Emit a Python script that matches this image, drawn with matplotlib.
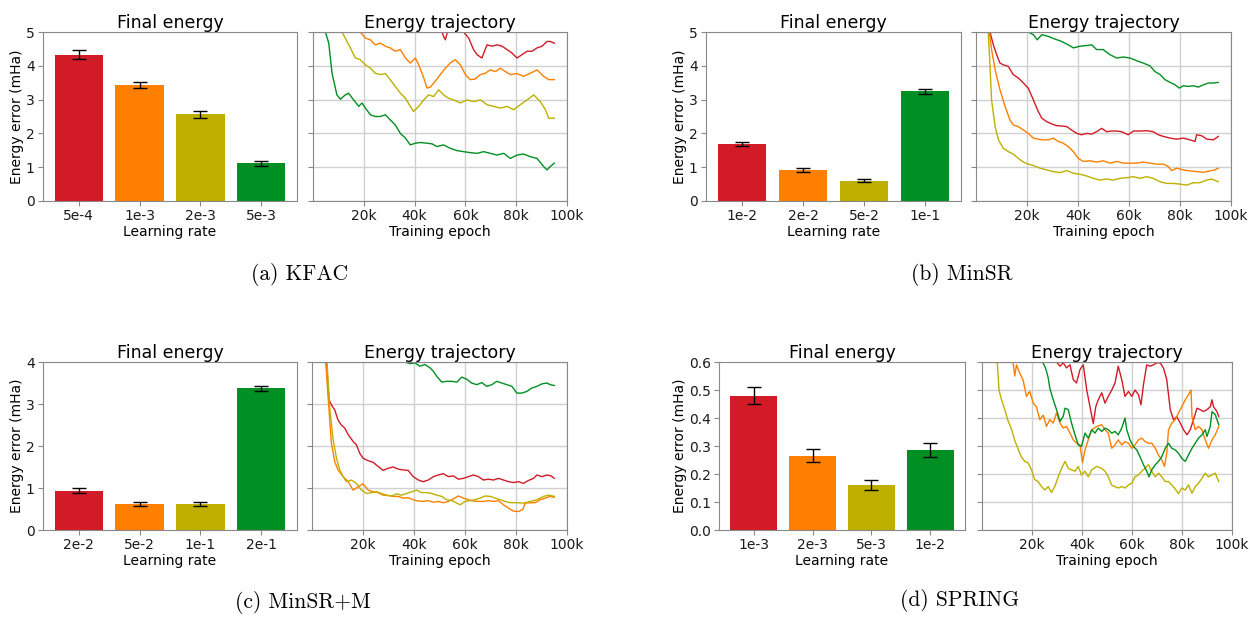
import matplotlib
matplotlib.use("Agg")
import matplotlib.pyplot as plt

RED, ORANGE, YELLOW, GREEN = '#d31b27', '#ff7f00', '#bfb000', '#008f22'
colors = [RED, ORANGE, YELLOW, GREEN]

# final energy error (mHa) per learning rate, with error bars
kfac_lr = ['5e-4', '1e-3', '2e-3', '5e-3']
kfac_final = [4.33, 3.44, 2.57, 1.12]
kfac_err = [0.13, 0.09, 0.10, 0.07]

minsr_lr = ['1e-2', '2e-2', '5e-2', '1e-1']
minsr_final = [1.70, 0.92, 0.60, 3.24]
minsr_err = [0.06, 0.06, 0.05, 0.06]

minsrm_lr = ['2e-2', '5e-2', '1e-1', '2e-1']
minsrm_final = [0.94, 0.62, 0.62, 3.37]
minsrm_err = [0.05, 0.04, 0.045, 0.065]

spring_lr = ['1e-3', '2e-3', '5e-3', '1e-2']
spring_final = [0.48, 0.266, 0.16, 0.284]
spring_err = [0.03, 0.022, 0.017, 0.025]

# energy trajectories: (training epoch in k, energy error in mHa)
kfac_red = [(48.0, 5.6), (50.8, 5.0), (51.4, 4.87), (52.1, 4.77), (52.8, 4.97), (54.5, 5.5), (57.0, 5.6),
            (59.3, 5.0), (61.3, 4.82), (63.2, 4.48), (64.6, 4.33), (66.5, 4.23), (68.5, 4.62), (70.5, 4.58),
            (72.4, 4.62), (74.4, 4.58), (76.4, 4.48), (78.3, 4.38), (80.3, 4.23), (82.3, 4.33), (84.3, 4.43),
            (86.2, 4.43), (88.2, 4.53), (90.2, 4.58), (92.1, 4.72), (93.4, 4.72), (95.0, 4.67)]
kfac_orange = [(16.0, 6.0), (18.6, 5.0), (20.6, 4.82), (22.6, 4.77), (24.5, 4.62), (26.5, 4.67), (28.5, 4.58),
               (30.4, 4.53), (32.4, 4.43), (34.4, 4.48), (36.4, 4.23), (38.3, 4.08), (40.3, 4.23), (41.6, 4.03),
               (43.6, 3.64), (44.9, 3.34), (46.2, 3.37), (48.1, 3.54), (50.1, 3.74), (52.1, 3.93), (54.0, 4.08),
               (56.0, 4.18), (58.0, 4.03), (60.0, 3.74), (61.9, 3.59), (63.9, 3.61), (65.9, 3.74), (67.8, 3.78),
               (69.8, 3.88), (71.8, 3.83), (73.8, 3.93), (75.7, 3.83), (77.7, 3.74), (80.3, 3.77), (82.9, 3.69),
               (85.6, 3.78), (88.2, 3.88), (90.8, 3.69), (92.8, 3.59), (95.0, 3.59)]
kfac_yellow = [(9.0, 6.0), (11.4, 5.0), (12.7, 4.82), (14.7, 4.53), (16.7, 4.23), (18.6, 4.18), (20.6, 4.03),
               (22.6, 3.93), (24.5, 3.78), (26.5, 3.74), (28.5, 3.77), (30.4, 3.59), (32.4, 3.39), (34.4, 3.19),
               (36.4, 3.04), (38.3, 2.80), (39.6, 2.65), (41.6, 2.80), (43.6, 2.99), (45.5, 3.14), (47.5, 3.09),
               (49.5, 3.29), (51.4, 3.14), (53.4, 3.04), (55.4, 2.99), (58.0, 2.90), (60.6, 2.99), (63.2, 2.94),
               (65.9, 2.99), (68.5, 2.85), (71.1, 2.80), (73.8, 2.75), (76.4, 2.80), (79.0, 2.70), (81.6, 2.85),
               (84.3, 2.99), (86.9, 3.14), (89.5, 2.94), (91.5, 2.70), (92.8, 2.45), (95.0, 2.45)]
kfac_green = [(4.0, 6.5), (4.9, 5.0), (6.2, 4.67), (7.5, 3.78), (9.4, 3.14), (10.8, 3.01), (12.7, 3.14),
              (14.0, 3.19), (16.0, 2.99), (18.0, 2.80), (19.3, 2.90), (20.6, 2.75), (22.6, 2.55), (24.5, 2.50),
              (26.5, 2.50), (28.5, 2.55), (30.4, 2.40), (32.4, 2.25), (34.4, 2.00), (36.4, 1.86), (38.3, 1.66),
              (40.3, 1.71), (42.3, 1.73), (44.9, 1.71), (46.9, 1.69), (48.8, 1.61), (51.4, 1.66), (54.0, 1.56),
              (56.7, 1.49), (59.3, 1.46), (61.9, 1.43), (64.6, 1.41), (67.2, 1.46), (69.8, 1.41), (72.4, 1.36),
              (75.1, 1.41), (77.7, 1.26), (80.3, 1.36), (82.9, 1.39), (85.6, 1.31), (88.2, 1.26), (90.8, 1.02),
              (92.1, 0.92), (93.4, 1.02), (95.0, 1.12)]

minsr_red = [(4.5, 7.0), (5.5, 5.0), (6.8, 4.62), (8.1, 4.33), (9.4, 4.08), (10.7, 4.03), (12.7, 3.98),
             (14.6, 3.74), (16.6, 3.64), (18.6, 3.49), (20.5, 3.34), (22.5, 2.99), (24.4, 2.65), (25.8, 2.45),
             (27.7, 2.35), (29.7, 2.28), (31.6, 2.23), (33.6, 2.22), (35.6, 2.20), (37.5, 2.10), (39.5, 2.00),
             (41.4, 1.96), (43.4, 2.00), (45.4, 1.98), (47.3, 2.05), (49.3, 2.15), (51.2, 2.05), (53.2, 2.07),
             (55.2, 2.07), (57.1, 2.05), (59.7, 1.96), (61.7, 2.07), (64.3, 2.07), (66.9, 2.08), (69.5, 2.05),
             (71.5, 1.96), (73.5, 1.91), (76.1, 1.86), (78.7, 1.83), (81.3, 1.86), (83.9, 1.81), (85.9, 1.76),
             (86.5, 1.96), (88.5, 1.93), (90.5, 1.83), (93.1, 1.81), (95.0, 1.91)]
minsr_orange = [(4.2, 7.0), (5.2, 5.0), (6.1, 4.48), (7.5, 3.88), (9.4, 3.29), (11.4, 2.80), (13.3, 2.40),
                (14.6, 2.25), (16.6, 2.20), (18.6, 2.10), (20.5, 2.00), (22.5, 1.86), (24.4, 1.83), (26.4, 1.81),
                (28.4, 1.81), (30.3, 1.86), (32.3, 1.76), (34.2, 1.71), (36.2, 1.61), (38.2, 1.46), (40.1, 1.26),
                (42.1, 1.17), (44.7, 1.19), (47.3, 1.15), (49.9, 1.19), (52.5, 1.12), (55.2, 1.17), (57.8, 1.12),
                (60.4, 1.12), (63.0, 1.12), (65.6, 1.15), (68.2, 1.12), (70.8, 1.09), (73.5, 1.09), (75.4, 1.02),
                (76.7, 0.90), (78.7, 0.97), (81.3, 0.92), (83.9, 0.89), (86.5, 0.87), (89.2, 0.85), (91.8, 0.89),
                (93.7, 0.92), (95.0, 0.97)]
minsr_yellow = [(4.0, 7.0), (4.8, 5.0), (5.5, 3.98), (6.1, 2.99), (7.5, 2.20), (8.8, 1.81), (10.7, 1.56),
                (12.7, 1.46), (14.6, 1.39), (16.6, 1.26), (18.6, 1.15), (20.5, 1.09), (22.5, 1.05), (25.1, 0.97),
                (27.7, 0.92), (30.3, 0.87), (32.9, 0.84), (35.6, 0.90), (38.2, 0.82), (40.8, 0.79), (43.4, 0.74),
                (46.0, 0.67), (48.6, 0.62), (51.2, 0.65), (53.9, 0.62), (56.5, 0.67), (59.1, 0.69), (61.7, 0.72),
                (64.3, 0.67), (66.9, 0.72), (69.5, 0.67), (72.2, 0.57), (74.8, 0.52), (77.4, 0.52), (80.0, 0.50),
                (82.6, 0.47), (85.2, 0.54), (87.8, 0.54), (90.5, 0.62), (92.4, 0.65), (95.0, 0.57)]
minsr_green = [(18.0, 5.4), (20.5, 5.0), (22.5, 4.92), (24.0, 4.77), (25.8, 4.92), (28.4, 4.87), (31.0, 4.79),
               (33.6, 4.72), (36.2, 4.62), (38.2, 4.53), (40.8, 4.58), (43.4, 4.60), (45.4, 4.62), (47.3, 4.48),
               (49.9, 4.48), (52.5, 4.33), (55.2, 4.23), (57.8, 4.26), (60.4, 4.23), (63.0, 4.15), (65.6, 4.08),
               (68.2, 4.00), (70.2, 3.83), (72.2, 3.74), (74.1, 3.59), (76.1, 3.51), (78.0, 3.44), (79.7, 3.34),
               (81.3, 3.41), (83.3, 3.39), (85.2, 3.41), (87.2, 3.37), (89.2, 3.44), (91.1, 3.49), (93.1, 3.49),
               (95.0, 3.51)]

minsrm_red = [(4.8, 6.0), (5.6, 4.0), (6.7, 3.10), (7.6, 2.98), (8.9, 2.86), (10.2, 2.62), (11.5, 2.50),
              (12.8, 2.43), (14.2, 2.27), (16.1, 2.11), (17.4, 2.03), (18.7, 1.83), (20.0, 1.71), (22.0, 1.65),
              (24.0, 1.61), (26.0, 1.51), (27.9, 1.42), (29.9, 1.47), (31.8, 1.50), (33.8, 1.45), (35.8, 1.43),
              (37.7, 1.42), (39.7, 1.27), (41.7, 1.19), (43.6, 1.15), (45.6, 1.19), (47.6, 1.27), (49.5, 1.31),
              (51.5, 1.34), (53.5, 1.27), (55.4, 1.29), (57.4, 1.21), (59.4, 1.23), (61.3, 1.27), (63.3, 1.31),
              (65.3, 1.27), (67.2, 1.19), (69.2, 1.21), (71.2, 1.19), (73.1, 1.23), (75.1, 1.19), (77.1, 1.15),
              (79.0, 1.13), (81.0, 1.15), (82.9, 1.11), (84.9, 1.18), (86.9, 1.23), (88.2, 1.31), (90.2, 1.27),
              (92.1, 1.31), (93.7, 1.29), (95.0, 1.23)]
minsrm_orange = [(4.5, 6.0), (5.4, 4.0), (6.3, 3.18), (7.6, 2.07), (8.9, 1.63), (10.2, 1.43), (12.2, 1.27),
                 (14.2, 1.15), (16.1, 0.95), (18.1, 1.03), (20.0, 1.10), (22.0, 0.95), (24.0, 0.91), (26.0, 0.89),
                 (27.9, 0.83), (29.9, 0.82), (31.8, 0.80), (33.8, 0.80), (35.8, 0.76), (37.7, 0.77), (39.7, 0.72),
                 (41.7, 0.69), (43.6, 0.68), (45.6, 0.70), (47.6, 0.66), (49.5, 0.68), (51.5, 0.65), (53.5, 0.68),
                 (55.4, 0.74), (57.4, 0.81), (59.4, 0.76), (61.3, 0.72), (63.3, 0.69), (65.3, 0.68), (67.2, 0.68),
                 (69.2, 0.70), (71.2, 0.68), (73.1, 0.70), (75.1, 0.60), (77.1, 0.52), (79.0, 0.45), (81.0, 0.44),
                 (82.7, 0.49), (83.6, 0.64), (85.6, 0.65), (87.5, 0.65), (89.5, 0.72), (91.5, 0.76), (93.4, 0.80),
                 (95.0, 0.78)]
minsrm_yellow = [(5.0, 6.0), (5.9, 4.0), (6.9, 2.94), (8.3, 2.15), (9.6, 1.71), (10.9, 1.43), (12.2, 1.27),
                 (13.5, 1.15), (15.5, 1.19), (17.4, 1.11), (19.4, 0.95), (21.4, 0.87), (23.3, 0.89), (25.3, 0.91),
                 (27.3, 0.87), (29.2, 0.83), (31.2, 0.81), (33.2, 0.86), (35.1, 0.83), (37.1, 0.87), (39.1, 0.91),
                 (41.0, 0.95), (43.0, 0.89), (45.0, 0.89), (46.9, 0.87), (48.9, 0.83), (50.9, 0.80), (52.8, 0.72),
                 (54.8, 0.70), (56.8, 0.64), (58.1, 0.60), (60.0, 0.68), (62.0, 0.70), (64.0, 0.72), (65.9, 0.76),
                 (67.9, 0.81), (69.9, 0.80), (71.8, 0.76), (73.8, 0.72), (75.8, 0.68), (77.7, 0.65), (80.3, 0.65),
                 (82.9, 0.64), (85.6, 0.68), (88.2, 0.72), (90.8, 0.80), (92.8, 0.83), (95.0, 0.80)]
minsrm_green = [(34.0, 4.2), (36.4, 4.0), (38.4, 3.96), (40.4, 3.98), (42.3, 3.90), (44.3, 3.94), (46.3, 3.86),
                (47.6, 3.78), (48.9, 3.66), (50.9, 3.52), (52.8, 3.54), (54.8, 3.54), (56.8, 3.52), (58.7, 3.64),
                (60.7, 3.59), (62.6, 3.50), (64.6, 3.46), (66.6, 3.51), (68.5, 3.42), (70.5, 3.46), (72.5, 3.54),
                (74.4, 3.50), (76.4, 3.46), (78.4, 3.42), (80.3, 3.26), (82.3, 3.26), (84.3, 3.30), (86.2, 3.38),
                (88.2, 3.42), (90.2, 3.48), (92.1, 3.50), (93.4, 3.46), (95.0, 3.44)]

spring_red = [(29.0, 0.62), (29.8, 0.60), (31.2, 0.585), (32.5, 0.597), (33.8, 0.579), (35.2, 0.59), (36.5, 0.537),
              (37.8, 0.525), (39.2, 0.573), (40.5, 0.59), (41.9, 0.50), (43.2, 0.44), (44.5, 0.38), (45.5, 0.44),
              (46.5, 0.465), (47.9, 0.49), (49.2, 0.453), (50.5, 0.477), (51.9, 0.50), (53.2, 0.525), (54.5, 0.585),
              (55.9, 0.537), (57.2, 0.477), (58.6, 0.495), (59.9, 0.477), (61.2, 0.50), (62.6, 0.483), (63.6, 0.447),
              (64.6, 0.52), (65.9, 0.59), (67.2, 0.585), (68.6, 0.59), (69.9, 0.597), (71.3, 0.597), (72.6, 0.578),
              (73.9, 0.537), (75.3, 0.43), (76.6, 0.394), (77.9, 0.405), (79.3, 0.382), (80.6, 0.358), (82.0, 0.34),
              (83.3, 0.358), (84.6, 0.394), (86.0, 0.435), (87.3, 0.43), (88.6, 0.423), (90.0, 0.43), (91.3, 0.44),
              (92.0, 0.465), (92.6, 0.44), (94.0, 0.423), (94.7, 0.405)]
spring_orange = [(11.0, 0.7), (12.4, 0.60), (13.1, 0.55), (13.8, 0.59), (15.1, 0.56), (16.4, 0.537), (17.8, 0.477),
                 (19.1, 0.495), (20.5, 0.453), (21.8, 0.44), (23.1, 0.394), (24.5, 0.41), (25.8, 0.37), (27.1, 0.394),
                 (28.5, 0.382), (29.8, 0.418), (31.2, 0.382), (32.5, 0.364), (33.8, 0.37), (35.2, 0.346),
                 (36.5, 0.322), (37.8, 0.31), (39.2, 0.304), (40.2, 0.24), (41.2, 0.286), (42.5, 0.322),
                 (43.9, 0.358), (45.9, 0.37), (47.9, 0.376), (49.2, 0.358), (50.5, 0.346), (51.9, 0.292),
                 (53.2, 0.304), (54.5, 0.322), (55.9, 0.304), (57.2, 0.316), (58.6, 0.31), (59.9, 0.292),
                 (61.2, 0.304), (62.6, 0.322), (63.9, 0.328), (65.2, 0.316), (66.6, 0.31), (67.9, 0.31),
                 (69.3, 0.292), (70.6, 0.268), (71.9, 0.25), (73.0, 0.227), (73.9, 0.274), (74.6, 0.358),
                 (75.9, 0.382), (77.3, 0.394), (78.6, 0.418), (79.9, 0.44), (81.3, 0.465), (82.6, 0.483),
                 (83.6, 0.50), (84.0, 0.405), (85.3, 0.358), (86.6, 0.37), (88.0, 0.358), (89.3, 0.322),
                 (90.6, 0.292), (92.0, 0.322), (93.3, 0.34), (94.7, 0.37)]
spring_yellow = [(5.0, 0.8), (6.1, 0.60), (6.8, 0.50), (7.8, 0.465), (9.1, 0.43), (10.4, 0.39), (11.8, 0.36),
                 (13.1, 0.32), (14.4, 0.29), (15.8, 0.26), (17.1, 0.245), (18.4, 0.24), (19.8, 0.215), (21.1, 0.18),
                 (22.5, 0.173), (23.8, 0.155), (25.1, 0.143), (26.5, 0.155), (27.8, 0.134), (29.1, 0.155),
                 (30.5, 0.19), (31.8, 0.22), (33.2, 0.245), (34.5, 0.22), (35.8, 0.215), (37.2, 0.21), (38.5, 0.227),
                 (39.8, 0.197), (41.2, 0.21), (42.5, 0.19), (43.9, 0.215), (45.9, 0.227), (47.9, 0.22), (49.2, 0.21),
                 (50.5, 0.19), (51.9, 0.16), (53.2, 0.155), (54.5, 0.15), (55.9, 0.155), (57.2, 0.15), (58.6, 0.161),
                 (59.9, 0.167), (61.2, 0.19), (62.6, 0.197), (63.9, 0.21), (65.2, 0.22), (66.6, 0.233), (67.9, 0.21),
                 (69.3, 0.19), (70.6, 0.203), (71.9, 0.19), (73.3, 0.173), (74.6, 0.173), (75.9, 0.161),
                 (77.3, 0.146), (78.6, 0.13), (79.9, 0.15), (81.3, 0.143), (82.6, 0.161), (84.0, 0.131),
                 (85.3, 0.155), (86.6, 0.167), (88.0, 0.185), (89.3, 0.203), (90.6, 0.19), (92.0, 0.197),
                 (93.3, 0.203), (94.7, 0.173)]
spring_green = [(23.0, 0.65), (24.2, 0.60), (25.1, 0.585), (25.8, 0.567), (26.5, 0.543), (27.1, 0.507), (28.5, 0.465),
                (29.8, 0.43), (31.2, 0.388), (32.5, 0.406), (33.2, 0.435), (34.5, 0.43), (35.8, 0.382), (37.2, 0.34),
                (38.5, 0.304), (39.8, 0.298), (41.2, 0.346), (42.5, 0.328), (43.9, 0.358), (45.2, 0.346),
                (46.5, 0.364), (47.9, 0.352), (49.2, 0.364), (50.5, 0.358), (51.9, 0.346), (53.2, 0.352),
                (54.5, 0.34), (55.9, 0.364), (57.2, 0.40), (57.9, 0.358), (59.2, 0.322), (60.6, 0.298),
                (61.9, 0.286), (63.2, 0.262), (64.6, 0.233), (65.9, 0.21), (66.8, 0.19), (67.9, 0.215),
                (69.3, 0.233), (70.6, 0.245), (71.9, 0.262), (73.3, 0.292), (74.6, 0.31), (75.9, 0.292),
                (77.3, 0.286), (78.6, 0.274), (79.9, 0.256), (81.3, 0.245), (82.6, 0.268), (84.0, 0.292),
                (85.3, 0.31), (86.6, 0.328), (88.0, 0.34), (89.3, 0.358), (90.0, 0.334), (91.3, 0.37),
                (92.0, 0.423), (93.3, 0.412), (94.7, 0.376)]

epoch_ticks = [20000, 40000, 60000, 80000, 100000]
epoch_labels = ['20k', '40k', '60k', '80k', '100k']

SPINE = '#888888'


def style(ax):
    for s in ax.spines.values():
        s.set_color(SPINE)
    ax.tick_params(colors=SPINE, labelcolor='#1a1a1a', labelsize=10, pad=2.5)


def panel(fig, bar_rect, traj_rect, lrs, final, err, trajs, ymax, yticks, yfmt, caption, cap_xy):
    ax = fig.add_axes(bar_rect)
    ax.bar(range(len(lrs)), final, color=colors, width=0.8)
    ax.errorbar(range(len(lrs)), final, yerr=err, fmt='none', ecolor='black', elinewidth=1, capsize=5)
    ax.set_xticks(range(len(lrs)))
    ax.set_xticklabels(lrs)
    ax.set_ylim(0, ymax)
    ax.set_yticks(yticks)
    ax.set_yticklabels([yfmt.format(t) for t in yticks])
    ax.set_title('Final energy', fontsize=12.5, pad=3)
    ax.set_xlabel('Learning rate', fontsize=10, labelpad=1)
    ax.set_ylabel('Energy error (mHa)', fontsize=10, labelpad=1)
    style(ax)

    ax2 = fig.add_axes(traj_rect)
    for c, tr in zip(colors, trajs):
        ax2.plot([p[0] * 1000 for p in tr], [p[1] for p in tr], color=c, lw=1.0)
    ax2.set_xlim(0, 100000)
    ax2.set_ylim(0, ymax)
    ax2.set_yticks(yticks)
    ax2.set_xticks(epoch_ticks)
    ax2.set_xticklabels(epoch_labels)
    ax2.tick_params(labelleft=False)
    ax2.grid(True, color='#d0d0d0', lw=1.0)
    ax2.set_title('Energy trajectory', fontsize=12.5, pad=3)
    ax2.set_xlabel('Training epoch', fontsize=10, labelpad=1)
    style(ax2)

    fig.text(cap_xy[0], cap_xy[1], caption, ha='center', va='center', fontfamily='cmr10', fontsize=15.5)


fig = plt.figure(figsize=(12.5, 6.19), dpi=100)
H = 619.0
W = 1250.0


def rect(x0, x1, y0, y1):
    return [x0 / W, 1 - y1 / H, (x1 - x0) / W, (y1 - y0) / H]


panel(fig, rect(43, 297, 32, 201), rect(313, 567, 32, 201), kfac_lr, kfac_final, kfac_err,
      [kfac_red, kfac_orange, kfac_yellow, kfac_green], 5, [0, 1, 2, 3, 4, 5], '{:.0f}',
      '(a) KFAC', (300 / W, 1 - 275 / H))
panel(fig, rect(706, 961, 32, 201), rect(976, 1231, 32, 201), minsr_lr, minsr_final, minsr_err,
      [minsr_red, minsr_orange, minsr_yellow, minsr_green], 5, [0, 1, 2, 3, 4, 5], '{:.0f}',
      '(b) MinSR', (962 / W, 1 - 275 / H))
panel(fig, rect(43, 297, 362, 530), rect(312, 567, 362, 530), minsrm_lr, minsrm_final, minsrm_err,
      [minsrm_red, minsrm_orange, minsrm_yellow, minsrm_green], 4, [0, 1, 2, 3, 4], '{:.0f}',
      '(c) MinSR+M', (303 / W, 1 - 603 / H))
panel(fig, rect(719, 965, 362, 530), rect(982, 1232, 362, 530), spring_lr, spring_final, spring_err,
      [spring_red, spring_orange, spring_yellow, spring_green], 0.6, [0, 0.1, 0.2, 0.3, 0.4, 0.5, 0.6],
      '{:.1f}', '(d) SPRING', (960 / W, 1 - 601 / H))

fig.savefig('out.png', dpi=100)
